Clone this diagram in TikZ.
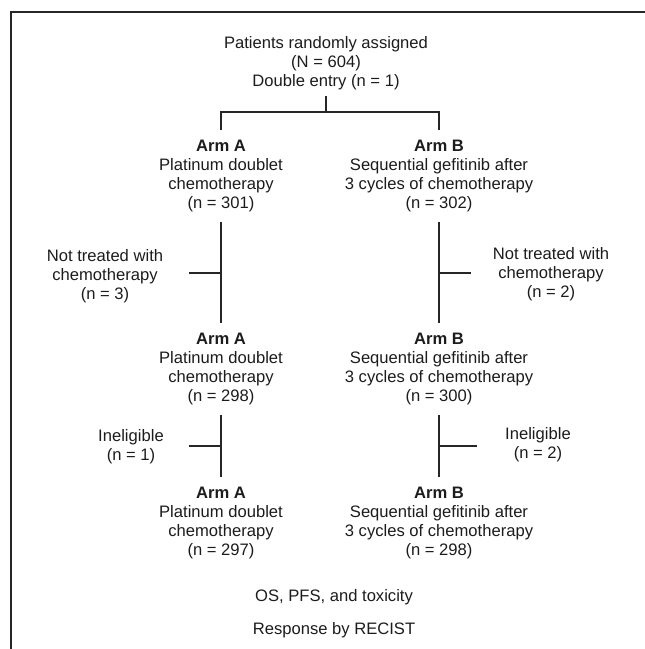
\documentclass[tikz,border=0pt]{standalone}
\usepackage{fontspec}
\setmainfont{Liberation Sans}
\usetikzlibrary{calc}
\definecolor{fcInk}{HTML}{1C1C1C}
\definecolor{fcRule}{HTML}{262626}
\newcommand{\FCType}{\fontsize{16.6}{19}\selectfont}
\tikzset{fc/base/.style={x=1pt,y=-1pt,line cap=butt,line join=miter,
  every node/.style={font=\FCType,text=fcInk,align=center}},
  fc/link/.style={draw=fcRule,line width=2pt},
  fc/frame/.style={draw=fcRule,line width=1.6pt},
  fc/root/.style={inner xsep=2pt,inner ysep=6pt},
  fc/arm/.style={inner xsep=2pt,inner ysep=10pt},
  fc/side/.style={inner sep=0pt},
  fc/note/.style={inner sep=0pt,anchor=base}}

\begin{document}
\begin{tikzpicture}[fc/base]
  \useasboundingbox (0,0) rectangle (645,649);
  % Scanned page: only the top and left rules of the box are left.
  \draw[fc/frame] (11,649) -- (11,12) -- (645,12);
  \node[fc/root] (root) at (326,63) {Patients randomly assigned\\(N = 604)\\Double entry (n = 1)};
  \node[fc/arm] (armA1) at (221,176) {\textbf{Arm A}\\Platinum doublet\\chemotherapy\\(n = 301)};
  \node[fc/arm] (armB1) at (439,176) {\textbf{Arm B}\\Sequential gefitinib after\\3 cycles of chemotherapy\\(n = 302)};
  \node[fc/arm] (armA2) at (221,369) {\textbf{Arm A}\\Platinum doublet\\chemotherapy\\(n = 298)};
  \node[fc/arm] (armB2) at (439,369) {\textbf{Arm B}\\Sequential gefitinib after\\3 cycles of chemotherapy\\(n = 300)};
  \node[fc/arm] (armA3) at (221,523) {\textbf{Arm A}\\Platinum doublet\\chemotherapy\\(n = 297)};
  \node[fc/arm] (armB3) at (439,523) {\textbf{Arm B}\\Sequential gefitinib after\\3 cycles of chemotherapy\\(n = 298)};
  \node[fc/side] (notA) at (105,276) {Not treated with\\chemotherapy\\(n = 3)};
  \node[fc/side] (notB) at (551,274) {Not treated with\\chemotherapy\\(n = 2)};
  \node[fc/side] (inelA) at (131,447) {Ineligible\\(n = 1)};
  \node[fc/side] (inelB) at (538,445) {Ineligible\\(n = 2)};
  \node[fc/note] (os) at (334,601) {OS, PFS, and toxicity};
  \node[fc/note] (resp) at (334,634) {Response by RECIST};
  % Randomisation split.
  \coordinate (split) at (root.south |- 0,112);
  \draw[fc/link] (root.south) -- (split);
  \draw[fc/link] (armA1.north) |- (split) -| (armB1.north);
  % Arms down the page, drop-outs branch off halfway.
  \draw[fc/link] (armA1.south) -- (armA2.north);
  \draw[fc/link] (armB1.south) -- (armB2.north);
  \draw[fc/link] (armA2.south) -- (armA3.north);
  \draw[fc/link] (armB2.south) -- (armB3.north);
  \coordinate (jA1) at ($(armA1.south)!.5!(armA2.north)$);
  \coordinate (jB1) at ($(armB1.south)!.5!(armB2.north)$);
  \coordinate (jA2) at ($(armA2.south)!.5!(armA3.north)$);
  \coordinate (jB2) at ($(armB2.south)!.5!(armB3.north)$);
  \draw[fc/link,shorten >=26pt] (jA1) -- (jA1 -| notA.east);
  \draw[fc/link,shorten >=22pt] (jB1) -- (jB1 -| notB.west);
  \draw[fc/link,shorten >=25pt] (jA2) -- (jA2 -| inelA.east);
  \draw[fc/link,shorten >=28pt] (jB2) -- (jB2 -| inelB.west);
\end{tikzpicture}
\end{document}
